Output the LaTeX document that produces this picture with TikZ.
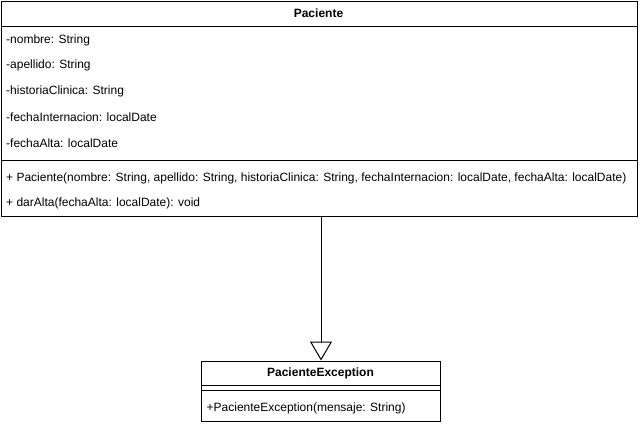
\documentclass[tikz,border=0pt]{standalone}
\usepackage{fontspec}
\setmainfont{Liberation Sans}
\usetikzlibrary{arrows.meta}
\tikzset{
  classbox/.style={draw=black, line width=1pt, fill=white, anchor=north west, inner sep=0pt},
  sep/.style={draw=black, line width=1pt},
  member/.style={anchor=west, inner sep=0pt, font=\fontsize{12}{14}\selectfont},
  title/.style={anchor=center, inner sep=0pt, font=\fontsize{12}{14}\selectfont\bfseries},
  inherit/.style={draw=black, line width=1pt, -{Triangle[open, length=19pt, width=22pt, line width=1pt]}}
}
\begin{document}
\begin{tikzpicture}[x=1pt, y=-1pt]
\useasboundingbox[fill=white] (0,0) rectangle (641,424);
% Paciente class
\node[classbox, minimum width=636pt, minimum height=215.5pt] (pac) at (0.5,0.5) {};
\node[title] (pacT) at (318.5,13.5) {Paciente};
\draw[sep] (pac.west |- 0,26) coordinate (ph1) -- (pac.east |- 0,26) coordinate (ph2);
\node[member] (a1) at (6,40) {-nombre: String};
\node[member] (a2) at (6,65.5) {-apellido: String};
\node[member] (a3) at (6,91.5) {-historiaClinica: String};
\node[member] (a4) at (6,117.5) {-fechaInternacion: localDate};
\node[member] (a5) at (6,143) {-fechaAlta: localDate};
\draw[sep] (pac.west |- 0,160) coordinate (ps1) -- (pac.east |- 0,160) coordinate (ps2);
\node[member] (m1) at (6,178) {+ Paciente(nombre: String, apellido: String, historiaClinica: String, fechaInternacion: localDate, fechaAlta: localDate)};
\node[member] (m2) at (6,203.5) {+ darAlta(fechaAlta: localDate): void};
% PacienteException class
\node[classbox, minimum width=239pt, minimum height=60pt] (exc) at (201,360.5) {};
\node[title] (excT) at (320.5,373.5) {PacienteException};
\draw[sep] (exc.west |- 0,385.5) coordinate (eh1) -- (exc.east |- 0,385.5) coordinate (eh2);
\draw[sep] (exc.west |- 0,390) coordinate (es1) -- (exc.east |- 0,390) coordinate (es2);
\node[member] (em1) at (206.5,408.5) {+PacienteException(mensaje: String)};
% Inheritance
\draw[inherit] (exc.north |- pac.south) -- (exc.north);
\end{tikzpicture}
\end{document}
